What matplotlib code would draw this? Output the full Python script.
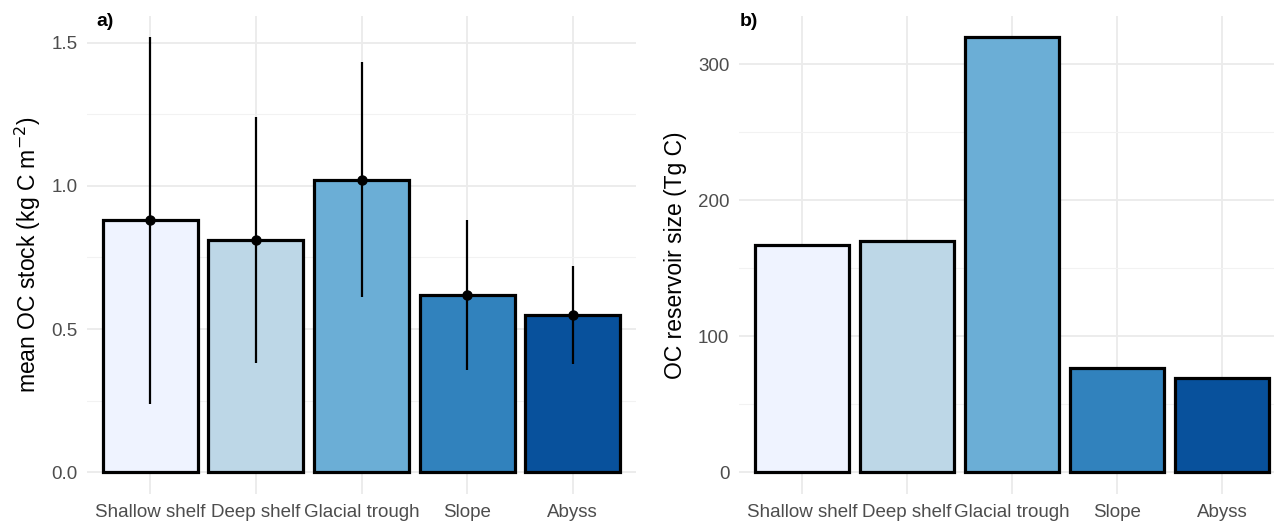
import numpy as np
import matplotlib.pyplot as plt
from matplotlib.ticker import MultipleLocator

plt.rcParams['font.family'] = ['Liberation Sans', 'DejaVu Sans']

# data
regions = ["Shallow shelf", "Deep shelf", "Glacial trough", "Slope", "Abyss"]
mean_stock = [0.881, 0.811, 1.021, 0.620, 0.549]
stock_low = [0.240, 0.380, 0.613, 0.357, 0.378]
stock_high = [1.519, 1.240, 1.432, 0.881, 0.720]
reservoir = [167.4, 170.1, 319.9, 76.4, 69.2]

colors = ["#EFF3FF", "#BDD7E7", "#6BAED6", "#3182BD", "#08519C"]

fig = plt.figure(figsize=(12.74, 5.23), dpi=100)
ax1 = fig.add_axes([87/1274, 1-494/523, (636-87)/1274, (494-15.5)/523])
ax2 = fig.add_axes([739/1274, 1-494/523, (1285-739)/1274, (494-15.5)/523])

x = np.arange(1, len(regions)+1)


def style(ax, major, minor, ymax):
    ax.set_facecolor("white")
    for s in ax.spines.values():
        s.set_visible(False)
    ax.set_xlim(0.4, 5.6)
    ax.set_ylim(-0.05*ymax, 1.05*ymax)
    ax.yaxis.set_major_locator(MultipleLocator(major))
    ax.yaxis.set_minor_locator(MultipleLocator(minor))
    ax.set_xticks(x)
    ax.set_xticklabels(regions)
    ax.grid(True, which="major", color="#EBEBEB", lw=1.3, zorder=0)
    ax.grid(True, which="minor", axis="y", color="#F2F2F2", lw=0.8, zorder=0)
    ax.set_axisbelow(True)
    ax.tick_params(which="both", length=0, labelsize=13.5, labelcolor="#4D4D4D")
    ax.tick_params(axis="x", pad=7)
    ax.tick_params(axis="y", pad=7)


# panel a
ax1.bar(x, mean_stock, width=0.9, color=colors, edgecolor="black", linewidth=2.3, zorder=2)
ax1.vlines(x, stock_low, stock_high, color="black", lw=1.6, zorder=3)
ax1.plot(x, mean_stock, "o", color="black", ms=6.5, zorder=4)
style(ax1, 0.5, 0.25, 1.519)
ax1.yaxis.set_major_formatter(plt.FuncFormatter(lambda v, p: f"{v:.1f}"))
ax1.set_ylabel(r"mean OC stock (kg C m$^{-2}$)", fontsize=16.5, labelpad=6)
fig.text(96/1274, 1-22/523, "a)", fontsize=14, fontweight="bold", va="center")

# panel b
ax2.bar(x, reservoir, width=0.9, color=colors, edgecolor="black", linewidth=2.3, zorder=2)
style(ax2, 100, 50, 319.9)
ax2.set_ylabel("OC reservoir size (Tg C)", fontsize=16.5, labelpad=8)
fig.text(740/1274, 1-22/523, "b)", fontsize=14, fontweight="bold", va="center")

fig.savefig("out.png", dpi=100)
